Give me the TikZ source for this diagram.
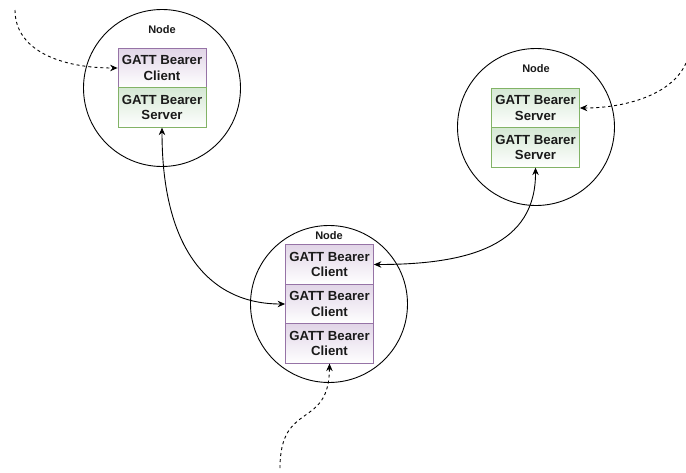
\documentclass[tikz,border=0pt]{standalone}
\usepackage{fontspec}
\setmainfont{Liberation Sans}
\usetikzlibrary{arrows.meta}
\definecolor{clientfill}{HTML}{E1D5E7}
\definecolor{clientline}{HTML}{9673A6}
\definecolor{serverfill}{HTML}{D5E8D4}
\definecolor{serverline}{HTML}{82B366}
\definecolor{txt}{HTML}{1A1A1A}
\tikzset{
  devnode/.style={circle, draw=black, line width=0.9pt, minimum size=157pt, inner sep=0pt},
  nodelabel/.style={font=\fontsize{11}{13}\selectfont\bfseries, text=txt, inner sep=0pt},
  bearer/.style={rectangle, minimum width=88pt, minimum height=39.5pt, inner sep=0pt,
    align=center, line width=0.8pt, text=txt,
    font=\fontsize{13.2}{15.5}\selectfont\bfseries},
  clientbox/.style={bearer, draw=clientline, top color=clientfill, bottom color=white},
  serverbox/.style={bearer, draw=serverline, top color=serverfill, bottom color=white},
  tip/.style={-{Stealth[length=7.5pt,width=6.5pt,inset=2.5pt]}},
  link/.style={line width=0.9pt, {Stealth[length=7.5pt,width=6.5pt,inset=2.5pt]}-{Stealth[length=7.5pt,width=6.5pt,inset=2.5pt]}},
  feed/.style={tip, line width=0.9pt, dash pattern=on 3pt off 3pt},
}
\begin{document}
\begin{tikzpicture}[x=1pt, y=-1pt]
\useasboundingbox (0,0) rectangle (686,472);

% left device
\node[devnode] (n1) at (162,88) {};
\node[nodelabel] (l1) at (162,30) {Node};
\node[clientbox] (a1) at (162,68) {GATT Bearer\\Client};
\node[serverbox] (b1) at (162,107.5) {GATT Bearer\\Server};

% right device
\node[devnode] (n2) at (536,127) {};
\node[nodelabel] (l2) at (536,69) {Node};
\node[serverbox] (a2) at (535.5,108) {GATT Bearer\\Server};
\node[serverbox] (b2) at (535.5,147.5) {GATT Bearer\\Server};

% bottom device
\node[devnode] (n3) at (329,304) {};
\node[nodelabel] (l3) at (329,236) {Node};
\node[clientbox] (c1) at (329.5,264.5) {GATT Bearer\\Client};
\node[clientbox] (c2) at (329.5,304) {GATT Bearer\\Client};
\node[clientbox] (c3) at (329.5,343.5) {GATT Bearer\\Client};

% links between devices
\draw[link] (b1.south) .. controls (162,250) and (210,304) .. (c2.west);
\draw[link] (b2.south) .. controls (536,245) and (470,264.5) .. (c1.east);

% incoming links from outside
\coordinate (e1) at (15,10);
\coordinate (e2) at (686,63);
\coordinate (e3) at (280,468);
\draw[feed] (e1) .. controls (15,50) and (60,68) .. (a1.west);
\draw[feed] (e2) .. controls (672,95) and (625,108) .. (a2.east);
\draw[feed] (e3) .. controls (280,400) and (329,430) .. (c3.south);
\end{tikzpicture}
\end{document}
